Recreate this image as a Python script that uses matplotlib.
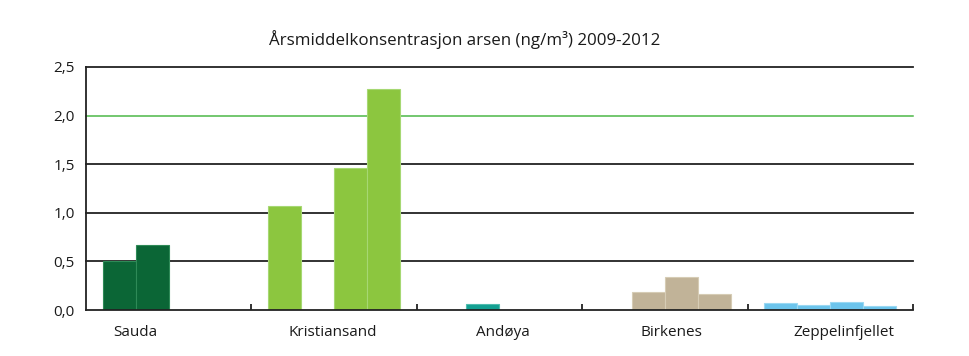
import numpy as np
import matplotlib
matplotlib.use("Agg")
import matplotlib.pyplot as plt
from matplotlib.ticker import FixedLocator

plt.rcParams['font.family'] = ['Open Sans', 'DejaVu Sans']

stations = ["Sauda", "Kristiansand", "Andøya", "Birkenes", "Zeppelinfjellet"]
years = ["2009", "2010", "2011", "2012"]
# values per station, per year (None = no measurement)
sauda = [0.50, 0.67, None, None]
kristiansand = [1.07, None, 1.46, 2.27]
andoya = [None, 0.06, None, None]
birkenes = [None, 0.19, 0.34, 0.16]
zeppelin = [0.07, 0.05, 0.085, 0.04]
series = [sauda, kristiansand, andoya, birkenes, zeppelin]
colors = ["#0b6636", "#8cc63f", "#13a092", "#c1b398", "#6cc4ec"]
edge_colors = ["#2e8a57", "#a6d873", "#4fbcae", "#d6ccb5", "#9ad8f2"]
limit_value = 2.0
yticks = [0.0, 0.5, 1.0, 1.5, 2.0, 2.5]
ytick_labels = ["0,0", "0,5", "1,0", "1,5", "2,0", "2,5"]
title = "Årsmiddelkonsentrasjon arsen (ng/m³) 2009-2012"

# label placement (layout, in group units)
label_pos = [-0.20, 0.99, 2.02, 3.04, 4.08]

fig = plt.figure(figsize=(9.70, 3.56), dpi=100)
ax = fig.add_axes([86/970, 1-310/356, (913-86)/970, (310-67)/356])

w = 0.2
offsets = (np.arange(4) - 1.5) * w
for i, vals in enumerate(series):
    for j, v in enumerate(vals):
        if v is None:
            continue
        ax.bar(i + offsets[j], v, width=w, color=colors[i],
               edgecolor=edge_colors[i], linewidth=0.8, zorder=3)

for y in [0.5, 1.0, 1.5, 2.5]:
    ax.axhline(y, color="#222222", lw=1.3, zorder=1, clip_on=False)
ax.axhline(limit_value, color="#4db848", lw=1.1, zorder=2, clip_on=False)

ax.set_xlim(-0.5, 4.5)
ax.set_ylim(0, 2.5)
for s in ["top", "right"]:
    ax.spines[s].set_visible(False)
for s in ["left", "bottom"]:
    ax.spines[s].set_color("#222222")
    ax.spines[s].set_linewidth(1.3)
    ax.spines[s].set_zorder(4)

ax.set_yticks(yticks)
ax.set_yticklabels(ytick_labels, fontsize=11, color="#1a1a1a")
ax.tick_params(axis="y", length=0, pad=8)

ax.xaxis.set_major_locator(FixedLocator([0.5, 1.5, 2.5, 3.5, 4.5]))
ax.xaxis.set_major_formatter(plt.NullFormatter())
ax.tick_params(axis="x", which="major", direction="in", length=4, width=1.3, color="#222222")
ax.set_xticks(label_pos, minor=True)
ax.set_xticklabels(stations, minor=True, fontsize=11, color="#1a1a1a")
ax.tick_params(axis="x", which="minor", length=0, pad=11)

fig.text(465/970, 1-40/356, title, ha="center", va="center", fontsize=12.2, color="#1a1a1a")

fig.savefig("out.png", dpi=100)
